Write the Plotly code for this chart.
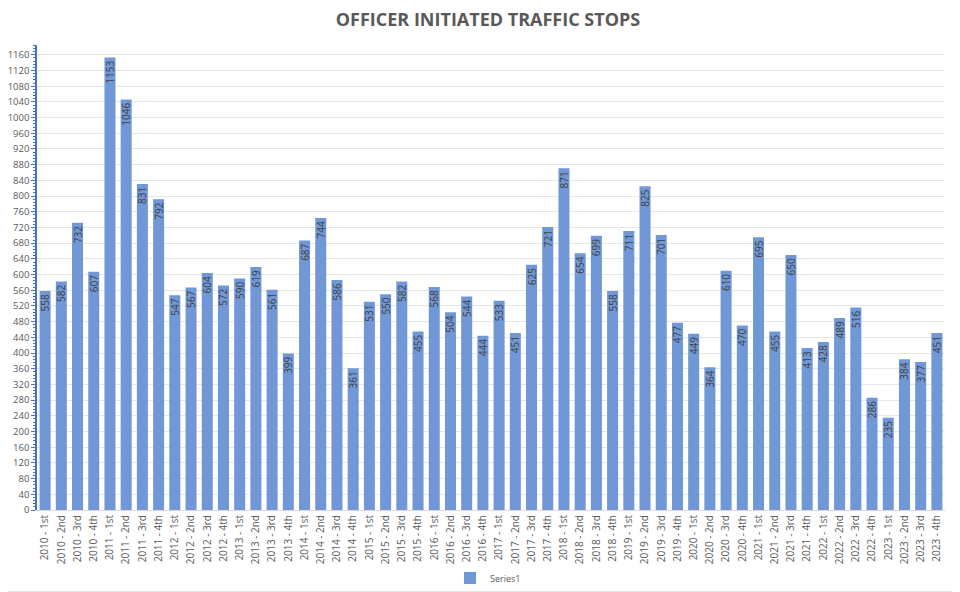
import plotly.graph_objects as go

years = list(range(2010, 2024))
quarters = ["1st", "2nd", "3rd", "4th"]
categories = [f"{y} - {q}" for y in years for q in quarters]

stops = [
    558, 582, 732, 607,
    1153, 1046, 831, 792,
    547, 567, 604, 572,
    590, 619, 561, 399,
    687, 744, 586, 361,
    531, 550, 582, 455,
    568, 504, 544, 444,
    533, 451, 625, 721,
    871, 654, 699, 558,
    711, 825, 701, 477,
    449, 364, 610, 470,
    695, 455, 650, 413,
    428, 489, 516, 286,
    235, 384, 377, 451,
]

y_ticks = list(range(0, 1161, 40))

fig = go.Figure()
fig.add_trace(
    go.Bar(
        x=categories,
        y=stops,
        name="Series1",
        marker=dict(color="#7198d6", line=dict(width=0)),
        text=[str(v) for v in stops],
        textposition="inside",
        insidetextanchor="end",
        textangle=-90,
        textfont=dict(color="#404040", size=10, family="Open Sans"),
        showlegend=True,
    )
)

# the page body adds an 8px offset, so margins are shifted to compensate
fig.update_layout(
    width=960,
    height=592,
    paper_bgcolor="white",
    plot_bgcolor="white",
    margin=dict(l=29, r=23, t=37, b=90),
    bargap=0.32,
    font=dict(family="Open Sans", color="#595959", size=10),
    title=dict(
        text="<b>OFFICER INITIATED TRAFFIC STOPS</b>",
        x=0.5,
        xanchor="center",
        y=0.98,
        yanchor="middle",
        font=dict(size=18, color="#595959", family="Open Sans"),
    ),
    legend=dict(
        orientation="h",
        x=0.5,
        xanchor="center",
        xref="container",
        y=0.037,
        yanchor="middle",
        yref="container",
        bgcolor="rgba(0,0,0,0)",
        font=dict(size=9, color="#595959"),
        itemwidth=30,
    ),
    uniformtext=dict(minsize=8, mode="show"),
)

fig.update_xaxes(
    tickangle=-90,
    tickfont=dict(size=10, color="#595959"),
    showline=True,
    linecolor="#d9d9d9",
    showgrid=False,
    automargin=False,
)

fig.update_yaxes(
    range=[0, 1185],
    tickvals=y_ticks,
    tickfont=dict(size=9.5, color="#595959"),
    showline=True,
    linecolor="#4472c4",
    linewidth=1.5,
    ticks="outside",
    tickcolor="#4472c4",
    ticklen=4,
    minor=dict(dtick=8, ticks="outside", ticklen=2, tickcolor="#4472c4", showgrid=False),
    showgrid=True,
    gridcolor="#e6e6e6",
    zeroline=False,
    automargin=False,
)

fig.add_shape(
    type="rect",
    xref="paper",
    yref="paper",
    x0=-0.038,
    x1=1.011,
    y0=-0.176,
    y1=1.092,
    line=dict(color="#d9d9d9", width=1),
)

fig.write_html("out.html")
